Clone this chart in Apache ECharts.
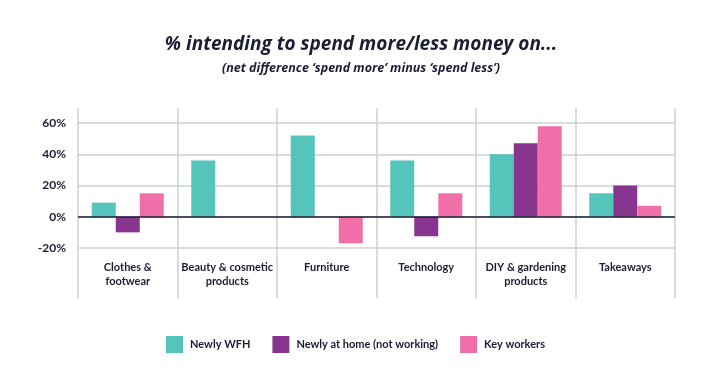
<!DOCTYPE html>
<html>
<head>
<meta charset="utf-8">
<script src="https://cdn.jsdelivr.net/npm/echarts@6/dist/echarts.min.js"></script>
<style>
	html, body { margin: 0; padding: 0; background: #ffffff; }
	#chartDiv { width: 722px; height: 376px; }
</style>
</head>
<body>
<div id="chartDiv"></div>
<script>
var categories = ["Clothes &\nfootwear", "Beauty & cosmetic\nproducts", "Furniture", "Technology", "DIY & gardening\nproducts", "Takeaways"];
var newlyWfh = [9, 36, 52, 36, 40, 15];
var newlyAtHome = [-10, null, null, -12.5, 47, 20];
var keyWorkers = [15, null, -17, 15, 58, 7];
var seriesNames = ["Newly WFH", "Newly at home (not working)", "Key workers"];
var seriesColors = ["#55c4bb", "#87358f", "#f06fa8"];

var textColor = "#1b1d36";
var gridColor = "#cdd0d5";
var font = "Lato";
var titleFont = "Open Sans";

var chart = echarts.init(document.getElementById('chartDiv'));

function barSeries(i, values) {
	return {
		name : seriesNames[i],
		type : 'bar',
		xAxisIndex : 0,
		yAxisIndex : 0,
		data : values,
		barWidth : 24,
		barGap : '0%',
		itemStyle : { color : seriesColors[i] }
	};
}

var series = [barSeries(0, newlyWfh), barSeries(1, newlyAtHome), barSeries(2, keyWorkers)];
// dark zero line
series[0].markLine = {
	silent : true,
	symbol : 'none',
	label : { show : false },
	lineStyle : { color : textColor, width : 1.5, type : 'solid' },
	data : [ { yAxis : 0 } ]
};

chart.setOption({
	animation : false,
	title : [{
		text : "% intending to spend more/less money on...",
		left : 'center',
		top : 30,
		textStyle : { fontFamily : titleFont, fontSize : 19, fontWeight : 'bold', fontStyle : 'italic', color : textColor }
	}, {
		text : "(net difference \u2018spend more\u2019 minus \u2018spend less\u2019)",
		left : 'center',
		top : 57,
		textStyle : { fontFamily : titleFont, fontSize : 12.5, fontWeight : 'bold', fontStyle : 'italic', color : textColor }
	}],
	legend : {
		data : seriesNames,
		left : 166,
		top : 336,
		padding : 0,
		icon : 'rect',
		itemWidth : 17,
		itemHeight : 17,
		itemGap : 22,
		textStyle : { fontFamily : font, fontSize : 11, fontWeight : 'bold', color : textColor, padding : [0, 0, 0, 2] }
	},
	grid : [
		{ left : 78, right : 47, top : 123, bottom : 128 },
		{ left : 78, right : 47, top : 108, bottom : 78 }
	],
	xAxis : [{
		type : 'category',
		gridIndex : 0,
		data : categories,
		axisLine : { show : false, onZero : false },
		axisTick : { show : false },
		splitLine : { show : false },
		axisLabel : { interval : 0, align : 'center', margin : 12, fontFamily : font, fontSize : 11, fontWeight : 'bold', color : textColor, lineHeight : 14 }
	}, {
		type : 'category',
		gridIndex : 1,
		data : categories,
		axisLine : { show : false },
		axisTick : { show : false, interval : 0 },
		axisLabel : { show : false, interval : 0 },
		splitLine : { show : true, interval : 0, lineStyle : { color : gridColor, width : 1.5 } }
	}],
	yAxis : [{
		type : 'value',
		gridIndex : 0,
		min : -20,
		max : 60,
		interval : 20,
		axisLine : { show : false },
		axisTick : { show : false },
		splitLine : { lineStyle : { color : gridColor, width : 1.5 } },
		axisLabel : { formatter : '{value}%', margin : 12, fontFamily : font, fontSize : 12, fontWeight : 'bold', color : textColor }
	}, {
		type : 'value',
		gridIndex : 1,
		min : 0,
		max : 1,
		show : false,
		splitLine : { show : false }
	}],
	series : series
});
</script>
</body>
</html>
